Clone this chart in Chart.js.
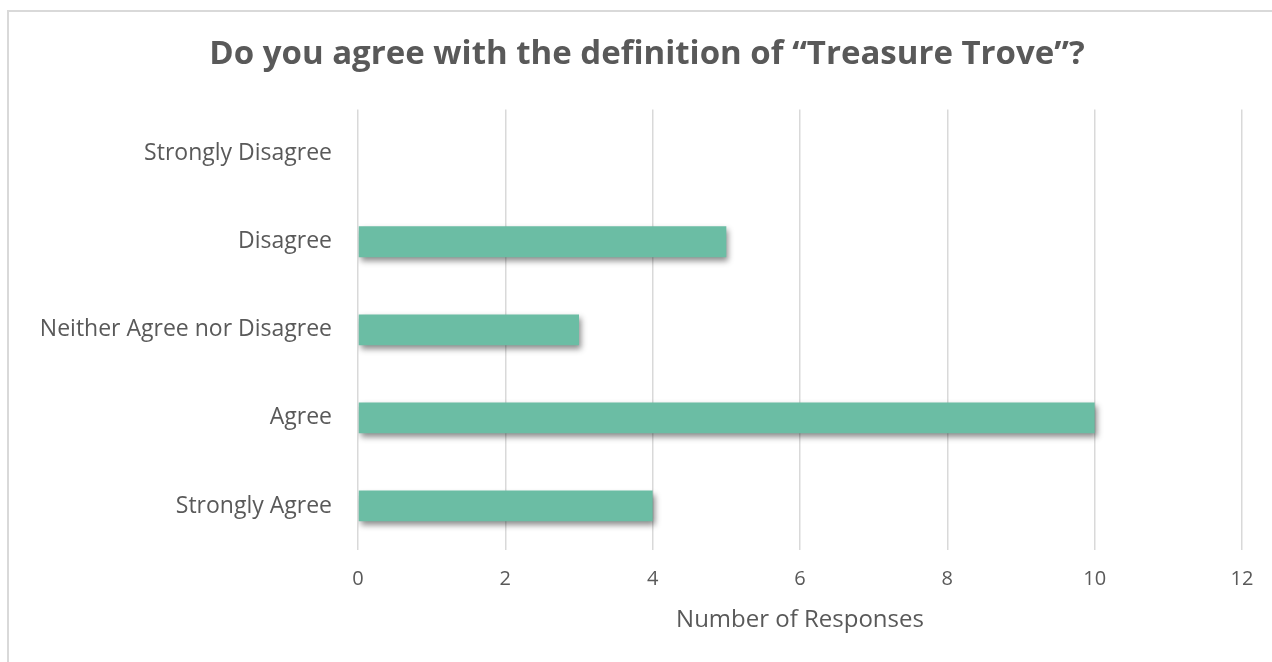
<!DOCTYPE html>
<html>
<head>
<meta charset="utf-8">
<script src="https://cdn.jsdelivr.net/npm/chart.js@4"></script>
<style>
  html, body { margin: 0; padding: 0; background: #fff; }
  #frame { position: absolute; left: 7px; top: 10px; width: 1300px; height: 700px; border: 2px solid #d9d9d9; }
  #wrap { position: absolute; left: 0; top: 0; width: 1272px; height: 662px; }
</style>
</head>
<body>
<div id="frame"></div>
<div id="wrap"><canvas id="myChart" width="1272" height="662"></canvas></div>
<script>
const categories = ['Strongly Disagree', 'Disagree', 'Neither Agree nor Disagree', 'Agree', 'Strongly Agree'];
const responses = [0, 5, 3, 10, 4];
const xTicks = [0, 2, 4, 6, 8, 10, 12];

const fontFamily = '"Open Sans", "Liberation Sans", sans-serif';
const textColor = '#595959';

// drop shadow under the bars, like the spreadsheet original
const barShadow = {
    id: 'barShadow',
    beforeDatasetsDraw(chart) {
        const c = chart.ctx;
        c.save();
        c.shadowColor = 'rgba(0, 0, 0, 0.45)';
        c.shadowBlur = 6;
        c.shadowOffsetX = 2;
        c.shadowOffsetY = 4;
    },
    afterDatasetsDraw(chart) {
        chart.ctx.restore();
    }
};

const ctx = document.getElementById('myChart').getContext('2d');
const myChart = new Chart(ctx, {
    type: 'bar',
    data: {
        labels: categories,
        datasets: [{
            label: 'Number of Responses',
            data: responses,
            backgroundColor: '#6bbda4',
            borderWidth: 0,
            barPercentage: 0.35,
            categoryPercentage: 1
        }]
    },
    plugins: [barShadow],
    options: {
        indexAxis: 'y',
        responsive: false,
        animation: false,
        layout: { padding: { left: 26, right: 4, top: 0, bottom: 0 } },
        plugins: {
            legend: { display: false },
            tooltip: { enabled: false },
            title: {
                display: true,
                text: 'Do you agree with the definition of \u201cTreasure Trove\u201d?',
                color: textColor,
                font: { family: fontFamily, size: 33, weight: 'bold', lineHeight: 1.2 },
                padding: { top: 35, bottom: 35 }
            }
        },
        scales: {
            x: {
                min: 0,
                max: 12,
                afterBuildTicks(scale) {
                    scale.ticks = xTicks.map(v => ({ value: v }));
                },
                afterFit(scale) {
                    scale.height = 112;
                    scale.paddingLeft = 0;
                    scale.paddingRight = 30;
                },
                grid: { color: '#d9d9d9', lineWidth: 1.5, drawTicks: false },
                border: { display: false },
                ticks: { color: textColor, font: { family: fontFamily, size: 20 }, padding: 17 },
                title: {
                    display: true,
                    text: 'Number of Responses',
                    color: textColor,
                    font: { family: fontFamily, size: 24 },
                    padding: { top: 0, bottom: 27 }
                }
            },
            y: {
                afterFit(scale) { scale.width = 332; },
                grid: { display: false, drawTicks: false },
                border: { display: false },
                ticks: { color: textColor, font: { family: fontFamily, size: 23 }, padding: 26 }
            }
        }
    }
});
</script>
</body>
</html>
